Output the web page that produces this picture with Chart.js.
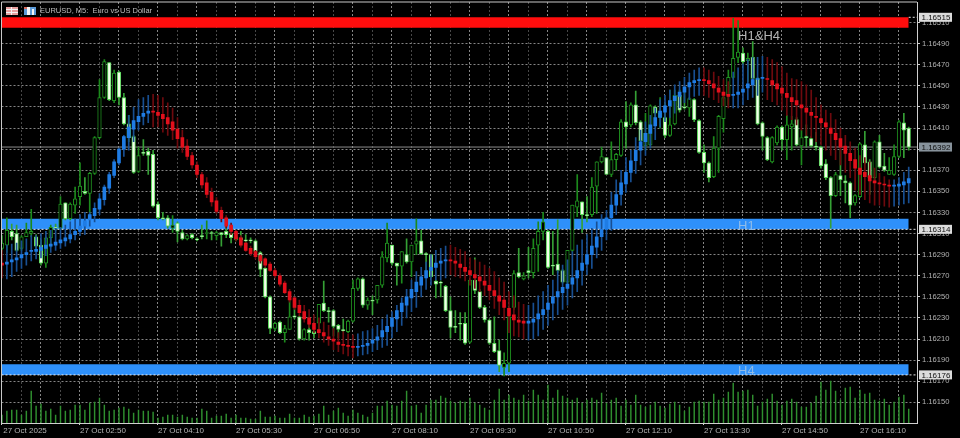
<!DOCTYPE html>
<html>
<head>
<meta charset="utf-8">
<title>EURUSD, M5</title>
<script src="https://cdn.jsdelivr.net/npm/chart.js@4/dist/chart.umd.min.js"></script>
<style>
  html, body { margin: 0; padding: 0; background: #000; }
  canvas { display: block; }
</style>
</head>
<body>
<canvas id="chart" width="960" height="438"></canvas>
<script>
"use strict";

// ── Data ────────────────────────────────────────────────────────────────────
// prices are points above 1.16000, so 392 reads 1.16392
const BASE_PRICE = 1.16;

const timeLabels = ["27 Oct 2025", "27 Oct 02:50", "27 Oct 04:10", "27 Oct 05:30", "27 Oct 06:50", "27 Oct 08:10",
  "27 Oct 09:30", "27 Oct 10:50", "27 Oct 12:10", "27 Oct 13:30", "27 Oct 14:50", "27 Oct 16:10"];
const priceTicks = [150, 170, 190, 210, 230, 250, 270, 290, 310, 330, 350, 370, 390, 410, 430, 450, 470, 490, 510];

const opens = [
  296,299,312,310,296,307,310,307,299,282, 306,316,315,339,324,337,345,350,348,367,
  401,439,472,436,463,439,414,402,369,387, 388,385,338,325,325,315,320,311,305,309,
  305,308,310,311,308,311,312,310,304,306, 304,304,303,292,277,250,220,226,216,219,
  232,231,210,219,217,225,244,237,237,223, 219,217,227,258,267,242,247,247,261,287,
  299,282,279,290,283,300,303,291,290,265, 264,260,237,222,225,225,207,266,255,240,
  228,206,199,183,187,240,273,267,275,273, 299,312,312,280,281,275,264,294,335,340,
  328,328,355,378,382,366,380,384,416,413, 432,416,393,394,430,420,420,403,414,441,
  430,429,437,417,387,377,364,391,419,441, 458,477,481,474,477,457,415,401,378,396,
  411,399,411,418,393,402,400,393,392,376, 363,346,365,360,358,339,345,394,378,363,
  397,374,366,366,383,415,410];
const highs = [
  308,325,319,318,308,320,333,309,304,307, 318,319,345,339,339,354,377,363,368,402,
  456,475,472,465,464,443,422,403,392,399, 391,389,340,330,327,327,321,313,309,310,
  306,318,322,312,312,311,318,311,312,312, 309,306,304,293,278,251,226,227,223,247,
  240,232,220,230,219,243,265,240,238,224, 229,228,266,268,268,249,251,261,293,320,
  299,282,293,305,299,324,313,292,290,266, 265,261,250,237,235,235,266,287,257,242,
  229,231,209,197,240,275,296,273,297,305, 321,330,313,312,323,276,294,337,366,340,
  345,363,378,392,382,397,386,418,435,434, 445,417,424,432,431,439,434,446,446,446,
  444,439,438,418,394,378,402,422,441,465, 514,512,486,481,492,458,416,402,402,412,
  412,422,421,420,408,413,402,406,393,380, 364,368,389,365,359,347,396,407,380,398,
  403,386,382,394,417,424,411];
const lows = [
  293,292,304,293,294,307,307,294,280,278, 297,313,314,323,323,329,337,347,326,366,
  400,438,436,434,432,413,397,367,368,384, 366,335,323,323,315,311,302,304,304,305,
  303,305,305,304,304,298,306,301,303,301, 301,301,292,269,249,215,218,215,207,219,
  229,209,209,209,211,216,236,226,213,211, 217,216,226,256,240,238,233,244,259,283,
  280,261,263,282,269,290,290,269,268,249, 250,236,211,216,209,205,206,253,239,226,
  205,197,179,175,179,238,268,266,268,268, 274,304,277,271,273,263,263,293,326,311,
  321,326,329,377,366,364,370,383,391,411, 413,389,389,392,413,410,401,402,413,425,
  428,421,416,386,368,359,363,368,406,432, 457,472,470,454,457,413,389,379,377,394,
  389,380,389,393,375,392,392,389,372,361, 315,345,346,339,325,337,344,376,347,358,
  372,369,366,365,382,382,389];
const closes = [
  301,313,307,294,307,311,312,298,282,306, 316,315,338,324,338,343,355,348,367,401,
  439,473,437,462,439,414,401,368,384,386, 384,336,325,324,317,318,312,305,308,306,
  304,307,311,310,311,309,309,306,307,304, 303,303,293,276,250,220,225,216,220,231,
  231,210,219,216,215,243,237,236,222,219, 218,227,258,267,242,247,246,261,288,301,
  282,279,293,283,299,303,291,290,269,262, 263,237,221,221,224,206,266,256,240,228,
  206,198,185,187,231,272,269,270,273,296, 312,321,278,279,275,264,294,337,341,328,
  327,354,378,383,366,380,385,416,411,432, 415,398,405,431,424,424,403,413,441,427,
  429,438,418,387,377,363,391,421,439,458, 476,482,473,476,457,414,402,380,401,411,
  399,413,414,394,401,401,393,392,374,363, 346,366,361,358,337,346,395,377,363,397,
  373,370,370,383,416,408,392];

// smoothed trend bars: rising ones print blue, falling ones red
const maOpen = [
  282,281,283,285,287,290,293,293,294,296, 298,299,301,303,305,309,312,317,323,327,
  333,342,353,365,377,390,401,409,416,421, 424,426,425,423,420,416,409,401,393,384,
  375,366,358,349,341,332,325,318,312,306, 301,296,293,289,286,281,275,270,263,255,
  249,242,236,230,225,219,216,212,210,207, 205,204,203,202,203,204,206,209,212,217,
  222,229,236,242,249,255,261,268,275,278, 282,284,285,284,281,278,275,271,269,265,
  261,256,251,247,239,233,228,227,225,226, 229,233,238,244,250,254,258,262,268,275,
  281,290,297,307,314,325,337,347,357,368, 379,389,397,405,412,420,425,431,436,440,
  444,449,453,455,456,455,452,448,444,442, 441,442,444,448,451,456,457,457,455,452,
  448,443,439,436,432,429,425,421,419,415, 410,405,400,393,386,380,372,368,365,360,
  358,357,356,355,355,356,358];
const maClose = [
  280,283,285,287,290,292,294,295,297,299, 300,302,304,306,309,312,317,322,328,334,
  343,354,366,378,390,402,411,417,421,424, 426,425,422,419,414,408,400,392,383,375,
  366,356,347,340,331,324,317,312,305,299, 294,291,288,284,280,275,270,262,254,247,
  240,235,229,224,219,216,213,210,208,205, 204,203,202,203,204,206,209,212,218,222,
  230,237,244,250,257,264,269,275,278,282, 284,285,284,282,278,274,271,268,265,261,
  256,251,246,240,232,228,226,225,227,229, 234,238,244,250,255,259,262,268,275,282,
  290,298,307,314,325,337,347,358,368,379, 389,397,405,413,420,426,431,436,440,444,
  449,453,455,456,455,452,448,444,441,440, 442,444,447,452,456,457,458,456,451,447,
  443,439,435,432,429,425,422,420,415,411, 405,399,392,386,379,372,366,364,360,358,
  357,356,355,356,357,359,362];
const maHigh = [
  294,299,300,301,303,305,308,308,310,312, 313,315,316,318,321,324,328,330,330,339,
  348,356,368,380,391,403,422,430,437,439, 441,442,441,439,434,429,420,408,399,387,
  378,368,363,353,344,335,327,320,313,308, 302,298,294,290,287,283,277,272,265,257,
  250,247,242,238,233,230,226,223,220,216, 217,215,214,215,217,218,220,223,229,233,
  236,242,249,257,266,274,278,283,290,294, 296,298,299,297,295,293,287,285,283,280,
  277,274,268,264,255,251,245,243,242,244, 251,255,261,266,275,280,285,293,299,304,
  309,315,321,328,332,349,361,370,382,389, 401,408,416,422,429,437,441,446,451,454,
  458,462,465,467,467,465,463,459,456,454, 463,467,471,475,477,477,478,477,475,472,
  468,462,457,456,454,451,446,439,432,427, 424,418,410,403,397,391,384,382,378,372,
  367,364,361,361,363,368,373];
const maLow = [
  268,267,269,274,277,280,284,286,287,289, 292,294,296,298,301,304,308,309,317,321,
  328,337,348,363,375,383,389,397,408,413, 415,411,411,406,403,399,391,387,380,372,
  363,353,344,336,329,321,315,309,303,297, 293,289,286,282,278,274,268,260,253,245,
  238,232,226,221,216,211,207,204,200,198, 196,194,192,194,195,196,198,200,202,204,
  211,217,223,230,236,240,250,257,261,266, 266,268,271,269,268,265,261,258,255,251,
  247,239,233,228,216,213,212,210,209,210, 213,219,223,228,233,238,242,249,255,261,
  271,277,287,294,304,313,328,337,349,359, 367,375,384,391,399,411,416,420,424,429,
  434,437,440,441,441,439,437,434,431,429, 429,429,432,437,439,441,444,437,435,432,
  427,422,418,413,408,403,401,397,394,389, 384,380,375,368,363,351,347,342,339,337,
  337,336,335,336,337,338,339];

const volumes = [
  8,12,13,13,8,12,32,17,19,12, 14,8,17,12,13,18,18,13,20,21,
  25,18,12,13,15,16,14,10,13,12, 12,11,5,6,8,8,6,8,6,5,
  5,14,12,5,7,7,9,5,8,5, 5,4,4,12,6,6,7,5,5,9,
  5,5,8,6,7,9,17,8,12,15, 10,7,13,10,8,6,10,17,17,22,
  18,17,22,32,17,18,10,18,23,23, 27,25,22,20,22,21,25,20,18,15,
  13,23,34,23,28,25,23,28,22,33, 28,23,38,25,33,27,25,23,25,20,
  23,25,23,30,20,23,25,17,23,18, 28,18,16,18,21,17,15,19,21,18,
  12,16,21,22,21,21,29,23,25,31, 40,31,32,33,28,17,21,24,29,22,
  18,22,24,21,16,16,20,27,41,33, 42,32,23,35,36,25,33,29,30,23,
  22,24,18,21,26,28,14];

// zones: red H1&H4 resistance, blue H1 and H4 supports
const zoneNames  = ["H1&H4", "H1", "H4"];
const zoneTops   = [515, 324, 186];
const zoneBottoms = [505, 314, 176];
const zoneLevels = [515, 314, 176];
const bidPrice   = 392;

// ── Colours ─────────────────────────────────────────────────────────────────
const ZONE_COLORS = ["#ff0d0d", "#2e90fa", "#2e90fa"];
const ZONE_TEXT   = ["#b4b4b4", "#8fbce8", "#8fbce8"];
const GRID_BRIGHT = "#858585";
const GRID_DIM    = "#484848";
const AXIS_TEXT   = "#b4b4b4";
const FONT        = "'Liberation Sans', sans-serif";

const isUp = i => closes[i] >= opens[i];
const maUp = i => maClose[i] >= maOpen[i];

// ── Datasets ────────────────────────────────────────────────────────────────
const lastBar = opens.length - 1;
const X_MIN = -0.1;
const X_MAX = 187.7;

const spans = (a, b) => a.map((v, i) => ({ x: i, y: [v, b[i]] }));
const flat  = (y, x0, x1) => [{ x: x0, y }, { x: x1, y }];

const barBase = { type: "bar", grouped: false, borderSkipped: false };

const zoneSets = zoneNames.flatMap((name, i) => [
  { type: "line", label: name, data: flat(zoneTops[i], 0, lastBar), pointRadius: 0, borderWidth: 0,
    backgroundColor: ZONE_COLORS[i], fill: "+1", order: 10 },
  { type: "line", label: name + " low", data: flat(zoneBottoms[i], 0, lastBar), pointRadius: 0, borderWidth: 0,
    fill: false, order: 10 },
]);

const levelSets = zoneLevels.map((level, i) => ({
  type: "line", data: flat(level, i === 0 ? lastBar : X_MIN, X_MAX), pointRadius: 0,
  borderWidth: 1, borderColor: "#e8e8e8", borderDash: [2, 2], order: 9,
}));

const datasets = [
  ...zoneSets,
  ...levelSets,
  { type: "line", data: flat(bidPrice, X_MIN, X_MAX), pointRadius: 0, borderWidth: 1, borderColor: "#8c8c8c", order: 8 },
  { ...barBase, data: volumes.map((v, i) => ({ x: i, y: v })), yAxisID: "yVolume", barThickness: 0.8,
    backgroundColor: "#2f8f2f", order: 7 },
  { ...barBase, data: spans(lows, highs), barThickness: 1,
    backgroundColor: ctx => isUp(ctx.dataIndex) ? "#1c8a1c" : "#35a035", order: 6 },
  { ...barBase, data: spans(opens, closes), barThickness: 3.6, borderWidth: 1,
    backgroundColor: ctx => isUp(ctx.dataIndex) ? "#000000" : "#f2ffe9",
    borderColor: ctx => isUp(ctx.dataIndex) ? "#1f901f" : "#5ad85a", order: 5 },
  { ...barBase, data: spans(maLow, maHigh), barThickness: 1,
    backgroundColor: ctx => maUp(ctx.dataIndex) ? "#184f92" : "#6e0a0e", order: 4 },
  { ...barBase, data: spans(maOpen, maClose), barThickness: 3,
    backgroundColor: ctx => maUp(ctx.dataIndex) ? "#1f7ce4" : "#e3101c", order: 3 },
];

// ── Overlays: frame, header, zone names, price tags ─────────────────────────
function priceText(v) {
  return (BASE_PRICE + v / 1e5).toFixed(5);
}

function drawIcons(ctx) {
  ctx.fillStyle = "#e8a0a0"; ctx.fillRect(6, 7, 12, 8);
  ctx.fillStyle = "#f4f4f4"; ctx.fillRect(6, 9, 12, 1); ctx.fillRect(6, 12, 12, 1); ctx.fillRect(11, 7, 1, 8);
  ctx.fillStyle = "#5c9ad8"; ctx.fillRect(24, 7, 12, 8);
  ctx.fillStyle = "#f4f4f4"; ctx.fillRect(27, 7, 3, 8); ctx.fillRect(32, 9, 2, 6);
  ctx.fillStyle = "#d86a5c"; ctx.fillRect(24, 7, 3, 2);
}

function drawTag(ctx, right, y, value, fill) {
  const x = right + 2;
  ctx.fillStyle = fill;
  ctx.fillRect(x, y - 4.5, 33, 9);
  ctx.fillStyle = "#101010";
  ctx.font = "8px " + FONT;
  ctx.textAlign = "left";
  ctx.textBaseline = "middle";
  ctx.fillText(priceText(value), x + 2.5, y + 0.5);
}

const overlayPlugin = {
  id: "overlay",
  afterDraw(chart) {
    const { ctx, chartArea, scales } = chart;
    const yPx = scales.y;
    ctx.save();

    // left and top frame of the chart window
    ctx.strokeStyle = "#c8c8c8";
    ctx.lineWidth = 1;
    ctx.beginPath();
    ctx.moveTo(chartArea.left, chartArea.bottom);
    ctx.lineTo(chartArea.left, chartArea.top);
    ctx.lineTo(chartArea.right, chartArea.top);
    ctx.stroke();

    drawIcons(ctx);
    ctx.fillStyle = "#bcbcbc";
    ctx.font = "7.5px " + FONT;
    ctx.textAlign = "left";
    ctx.textBaseline = "middle";
    ctx.fillText("EURUSD, M5:  Euro vs US Dollar", 40, 11);

    // zone names sit at the same bar, near each zone
    const nameX = scales.x.getPixelForValue(151);
    zoneNames.forEach((name, i) => {
      const mid = i === 0 ? zoneBottoms[i] - 8 : (zoneTops[i] + zoneBottoms[i]) / 2 - 2;
      ctx.fillStyle = ZONE_TEXT[i];
      ctx.font = "13px " + FONT;
      ctx.textAlign = "left";
      ctx.textBaseline = "middle";
      ctx.fillText(name, nameX, yPx.getPixelForValue(mid));
    });

    zoneLevels.forEach(level => {
      drawTag(ctx, chartArea.right, yPx.getPixelForValue(level), level, "#dcdcdc");
    });
    drawTag(ctx, chartArea.right, yPx.getPixelForValue(bidPrice), bidPrice, "#87929b");
    ctx.restore();
  },
};

// the first and last labels must not push the plot area in
function noScalePadding(scale) {
  scale.paddingLeft = 0;
  scale.paddingRight = 0;
  scale.paddingTop = 0;
  scale.paddingBottom = 0;
}

// ── Chart ───────────────────────────────────────────────────────────────────
new Chart(document.getElementById("chart"), {
  type: "bar",
  data: { datasets },
  plugins: [overlayPlugin],
  options: {
    responsive: false,
    animation: false,
    events: [],
    layout: { padding: { left: 1.5, top: 2, right: 0, bottom: 0 } },
    plugins: { legend: { display: false }, tooltip: { enabled: false }, title: { display: false } },
    scales: {
      x: {
        type: "linear",
        min: X_MIN,
        max: X_MAX,
        offset: false,
        afterBuildTicks(scale) {
          const ticks = [];
          for (let i = 0; i <= lastBar; i += 4) ticks.push({ value: i });
          scale.ticks = ticks;
        },
        afterFit(scale) { scale.height = 15; noScalePadding(scale); },
        grid: {
          offset: false,
          color: ctx => ctx.tick && ctx.tick.value % 8 === 0 ? GRID_BRIGHT : GRID_DIM,
          tickColor: ctx => ctx.tick && ctx.tick.value % 16 === 0 ? "#d0d0d0" : "transparent",
          tickLength: 2,
        },
        border: { color: "#d0d0d0", dash: [2, 2] },
        ticks: {
          autoSkip: false,
          maxRotation: 0,
          padding: 1,
          labelOffset: 23,
          color: AXIS_TEXT,
          font: { family: FONT, size: 8 },
          callback: v => v % 16 === 0 ? timeLabels[v / 16] : "",
        },
      },
      y: {
        position: "right",
        min: 130.4,
        max: 529.5,
        afterBuildTicks(scale) { scale.ticks = priceTicks.map(value => ({ value })); },
        afterFit(scale) { scale.width = 43; noScalePadding(scale); },
        grid: { color: GRID_BRIGHT, tickColor: "#d0d0d0", tickLength: 3 },
        border: { color: "#d0d0d0", dash: [2, 2] },
        ticks: {
          padding: 2,
          color: AXIS_TEXT,
          font: { family: FONT, size: 7.6 },
          callback: v => priceText(v),
        },
      },
      yVolume: { display: false, min: 0, max: 421 },
    },
  },
});
</script>
</body>
</html>
